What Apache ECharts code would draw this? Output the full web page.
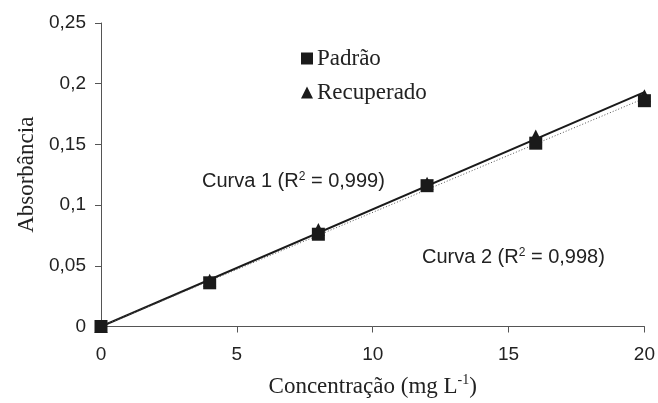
<!DOCTYPE html>
<html>
<head>
<meta charset="utf-8">
<script src="https://cdn.jsdelivr.net/npm/echarts@6/dist/echarts.min.js"></script>
<style>html,body{margin:0;padding:0;background:#fff}#c{width:658px;height:403px}</style>
</head>
<body>
<div id="c"></div>
<script>
const concentrations = [0, 4, 8, 12, 16, 20];
const padrao = [0, 0.036, 0.076, 0.116, 0.151, 0.186];
const recuperado = [0, 0.038, 0.080, 0.118, 0.157, 0.190];
const curva1 = [[0, 0], [20, 0.193]];
const curva2 = [[0, 0], [20, 0.188]];
const xTicks = [0, 5, 10, 15, 20];
const yTicks = [0, 0.05, 0.1, 0.15, 0.2, 0.25];

const chart = echarts.init(document.getElementById('c'), null, {renderer: 'canvas'});
const fmtComma = v => String(+v.toFixed(2)).replace('.', ',');
const pair = arr => concentrations.map((x, i) => [x, arr[i]]);
const supRich = {
  a: {fontFamily: 'Liberation Sans', fontSize: 20, fill: '#222'},
  s: {fontFamily: 'Liberation Sans', fontSize: 12, fill: '#222', verticalAlign: 'top', padding: [0,0,9,0]}
};

chart.setOption({
  animation: false,
  backgroundColor: '#fff',
  grid: {left: 101, right: 11, top: 23, bottom: 74, containLabel: false},
  legend: {
    orient: 'vertical', left: 296, top: 42,
    itemWidth: 12, itemHeight: 12, itemGap: 11,
    textStyle: {fontFamily: 'Liberation Serif', fontSize: 23, color: '#222', padding: [0,0,0,-1]},
    data: [
      {name: 'Padrão', icon: 'rect'},
      {name: 'Recuperado', icon: 'triangle'}
    ]
  },
  xAxis: {
    type: 'value', min: 0, max: 20, interval: 5,
    axisLine: {lineStyle: {color: '#555', width: 1}},
    axisTick: {show: true, length: 6, inside: false, lineStyle: {color: '#555'}},
    splitLine: {show: false},
    axisLabel: {fontFamily: 'Liberation Sans', fontSize: 19, color: '#222', margin: 19},
    name: '{a|Concentração (mg L}{s|-1}{a|)}',
    nameLocation: 'middle', nameGap: 47,
    nameTextStyle: {
      rich: {
        a: {fontFamily: 'Liberation Serif', fontSize: 23, color: '#222'},
        s: {fontFamily: 'Liberation Serif', fontSize: 14, color: '#222', verticalAlign: 'top', padding: [0,0,12,0]}
      }
    }
  },
  yAxis: {
    type: 'value', min: 0, max: 0.25, interval: 0.05,
    axisLine: {show: true, lineStyle: {color: '#555', width: 1}},
    axisTick: {show: true, length: 6, inside: false, lineStyle: {color: '#555'}},
    splitLine: {show: false},
    axisLabel: {fontFamily: 'Liberation Sans', fontSize: 19, color: '#222', margin: 15, formatter: fmtComma},
    name: 'Absorbância', nameLocation: 'middle', nameGap: 62,
    nameTextStyle: {fontFamily: 'Liberation Serif', fontSize: 23, color: '#222'}
  },
  graphic: [
    {type: 'text', left: 202, top: 171, style: {text: '{a|Curva 1 (R}{s|2}{a| = 0,999)}', rich: supRich}},
    {type: 'text', left: 422, top: 247, style: {text: '{a|Curva 2 (R}{s|2}{a| = 0,998)}', rich: supRich}}
  ],
  series: [
    {name: 'Curva 1', type: 'line', data: curva1, symbol: 'none', z: 1,
     lineStyle: {color: '#1a1a1a', width: 2}},
    {name: 'Curva 2', type: 'line', data: curva2, symbol: 'none', z: 1,
     lineStyle: {color: '#555', width: 1, type: [1, 2]}},
    {name: 'Recuperado', type: 'scatter', data: pair(recuperado), symbol: 'triangle', symbolSize: 13, z: 3,
     itemStyle: {color: '#1a1a1a', opacity: 1}},
    {name: 'Padrão', type: 'scatter', data: pair(padrao), symbol: 'rect', symbolSize: 13, z: 4,
     itemStyle: {color: '#1a1a1a', opacity: 1}}
  ]
});
</script>
</body>
</html>
